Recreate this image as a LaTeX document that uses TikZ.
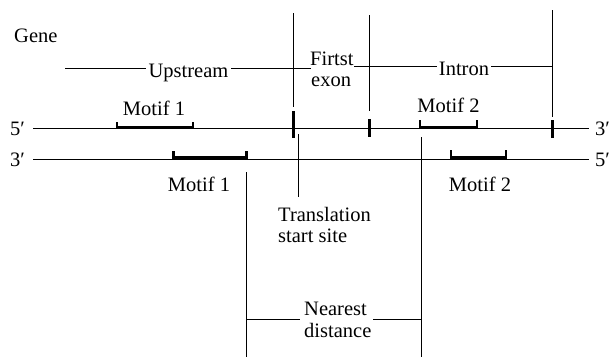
\documentclass[tikz,border=0pt]{standalone}
\usepackage{fontspec}
\setmainfont{Liberation Serif}
\begin{document}
\begin{tikzpicture}[x=1pt,y=-1pt,
  ln/.style={line width=0.9pt, line cap=butt},
  brk/.style={line width=2.6pt, line join=miter},
  tick/.style={line width=3pt},
  lbl/.style={inner sep=0pt, font=\fontsize{20.5}{22}\selectfont},
  lblc/.style={lbl, anchor=base},
  lblw/.style={lbl, anchor=base west}]
\useasboundingbox (0,0) rectangle (612,357);

% strands
\coordinate (s5a) at (33,128.5); \coordinate (s5b) at (589,128.5);
\coordinate (s3a) at (33,159);   \coordinate (s3b) at (589,159);
\draw[ln] (s5a) -- (s5b);
\draw[ln] (s3a) -- (s3b);
\node[lblw] (p5l) at (10,135) {5′};
\node[lblw] (p3l) at (10,166) {3′};
\node[lblw] (p3r) at (595,135) {3′};
\node[lblw] (p5r) at (595,166) {5′};

% gene label
\node[lblw] (gene) at (14,42) {Gene};

% region boundaries
\coordinate (v1t) at (293,13);  \coordinate (v1b) at (293,107);
\coordinate (v2t) at (369,15);  \coordinate (v2b) at (369,111);
\coordinate (v3t) at (552,10);  \coordinate (v3b) at (552,117);
\draw[ln] (v1t) -- (v1b);
\draw[ln] (v2t) -- (v2b);
\draw[ln] (v3t) -- (v3b);
\draw[tick] (293,111) -- (293,138);
\draw[tick] (369,119) -- (369,137);
\draw[tick] (552,120) -- (552,138);

% upstream
\node[lblc] (up) at (188.5,77) {Upstream};
\coordinate (u0) at (65,68); \coordinate (u1) at (146,68);
\coordinate (u2) at (231,68); \coordinate (u3) at (311,68);
\draw[ln] (u0) -- (u1);
\draw[ln] (u2) -- (u3);

% first exon
\node[lblw] (fe1) at (310,65) {Firtst};
\node[lblw] (fe2) at (311,86) {exon};

% intron
\node[lblc] (intr) at (464,75) {Intron};
\coordinate (i0) at (354,66.5); \coordinate (i1) at (437,66.5);
\coordinate (i2) at (491,66.5); \coordinate (i3) at (552,66.5);
\draw[ln] (i0) -- (i1);
\draw[ln] (i2) -- (i3);

% motifs
\draw[brk] (117,122) -- (117,127.3) -- (193,127.3) -- (193,122);
\node[lblc] (m1t) at (154,115) {Motif 1};
\draw[brk] (173.5,151) -- (173.5,157.5) -- (246.5,157.5) -- (246.5,151);
\node[lblc] (m1b) at (199,191) {Motif 1};
\draw[brk] (420,120) -- (420,127.3) -- (477,127.3) -- (477,120);
\node[lblc] (m2t) at (448.5,112) {Motif 2};
\draw[brk] (451,150) -- (451,157.5) -- (506,157.5) -- (506,150);
\node[lblc] (m2b) at (480,191) {Motif 2};

% translation start site
\coordinate (ts0) at (298,134); \coordinate (ts1) at (298,197);
\draw[ln] (ts0) -- (ts1);
\node[lblw] (ts) at (278,221) {Translation};
\node[lblw] (ts2) at (278,242) {start site};

% nearest distance
\coordinate (nl0) at (246,172); \coordinate (nl1) at (246,357);
\coordinate (nr0) at (421,137); \coordinate (nr1) at (421,357);
\draw[ln] (nl0) -- (nl1);
\draw[ln] (nr0) -- (nr1);
\draw[ln] (246,319) -- (300,319);
\draw[ln] (373,319) -- (421,319);
\node[lblw] (nd1) at (304,315) {Nearest};
\node[lblw] (nd2) at (304,337) {distance};
\end{tikzpicture}
\end{document}
